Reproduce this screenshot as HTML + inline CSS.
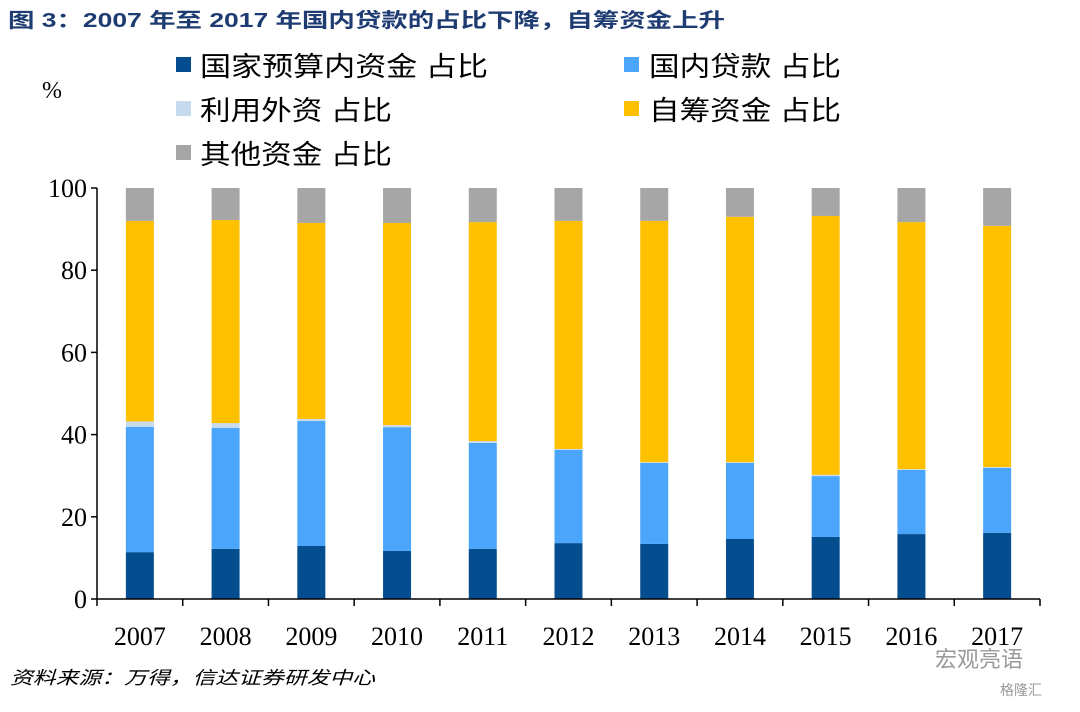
<!DOCTYPE html>
<html><head><meta charset="utf-8"><style>
body{margin:0;background:#fff;width:1080px;height:707px;overflow:hidden;font-family:"Liberation Sans","Noto Sans CJK SC",sans-serif}
</style></head><body>
<svg width="1080" height="707" xmlns="http://www.w3.org/2000/svg" id="chart">
<text x="8" y="27" font-size="20" font-weight="bold" fill="#1f3c72" textLength="717" lengthAdjust="spacingAndGlyphs" font-family="'Liberation Sans','Noto Sans CJK SC',sans-serif">图 3：2007 年至 2017 年国内贷款的占比下降，自筹资金上升</text>
<text x="42" y="98" font-size="24" fill="#000" font-family="'Liberation Serif',serif">%</text>
<g font-size="27" font-family="'Liberation Sans','Noto Sans CJK SC',sans-serif">
<g><rect x="176" y="57" width="15" height="15" fill="#044e90"/><text x="200" y="76" textLength="288" lengthAdjust="spacingAndGlyphs">国家预算内资金 占比</text></g>
<g><rect x="624" y="57" width="15" height="15" fill="#4aa5fb"/><text x="649" y="76" textLength="192" lengthAdjust="spacingAndGlyphs">国内贷款 占比</text></g>
<g><rect x="176" y="101" width="15" height="15" fill="#c7dbee"/><text x="200" y="120" textLength="192" lengthAdjust="spacingAndGlyphs">利用外资 占比</text></g>
<g><rect x="624" y="101" width="15" height="15" fill="#ffc000"/><text x="649" y="120" textLength="192" lengthAdjust="spacingAndGlyphs">自筹资金 占比</text></g>
<g><rect x="176" y="145" width="15" height="15" fill="#a6a6a6"/><text x="200" y="164" textLength="192" lengthAdjust="spacingAndGlyphs">其他资金 占比</text></g>
</g>
<g id="plot"></g>
<text x="10" y="684" font-size="18" font-style="italic" fill="#000" textLength="365" lengthAdjust="spacingAndGlyphs" font-family="'Liberation Sans','Noto Sans CJK SC',sans-serif">资料来源：万得，信达证券研发中心</text>
<text x="935" y="667" font-size="22" fill="#9a9a9a" font-family="'Liberation Sans','Noto Sans CJK SC',sans-serif">宏观亮语</text>
<text x="1000" y="695" font-size="14" fill="#9a9a9a" font-family="'Liberation Sans','Noto Sans CJK SC',sans-serif">格隆汇</text>
</svg>
<script>
const categories=["2007","2008","2009","2010","2011","2012","2013","2014","2015","2016","2017"];
const nationalBudget=[11.4,12.2,12.9,11.7,12.2,13.6,13.4,14.6,15.1,15.8,16.1];
const domesticLoans=[30.5,29.4,30.4,30.1,25.8,22.7,19.7,18.5,14.8,15.6,15.8];
const foreignCapital=[1.3,1.2,0.5,0.5,0.4,0.2,0.2,0.2,0.3,0.2,0.2];
const selfRaised=[48.8,49.4,47.7,49.2,53.3,55.5,58.7,59.7,63.0,60.1,58.7];
const otherFunds=[8.0,7.8,8.5,8.5,8.3,8.0,8.0,7.0,6.8,8.3,9.2];
const yTicks=[0,20,40,60,80,100];
const series=[nationalBudget,domesticLoans,foreignCapital,selfRaised,otherFunds];
const colors=["#044e90","#4aa5fb","#c7dbee","#ffc000","#a6a6a6"];
const names=["national-budget","domestic-loans","foreign-capital","self-raised","other"];
const X0=97,X1=1040,Y0=599,Y1=188;
const band=(X1-X0)/categories.length;
const y=v=>Y0-(v/100)*(Y0-Y1);
const xc=i=>X0+band*(i+0.5);
const ns="http://www.w3.org/2000/svg";
const plot=document.getElementById('plot');
function mk(t,a){const e=document.createElementNS(ns,t);for(const k in a)e.setAttribute(k,a[k]);plot.appendChild(e);return e;}
categories.forEach((c,i)=>{
 let acc=0;
 series.forEach((s,j)=>{
  const v=s[i];
  const r=mk('rect',{x:xc(i)-14,y:y(acc+v),width:28,height:y(acc)-y(acc+v),fill:colors[j]});
  
  
  acc+=v;
 });
 const t=mk('text',{x:xc(i),y:645,'font-size':26,'text-anchor':'middle','font-family':"'Liberation Serif',serif"});
 t.textContent=c;
 
 
});
yTicks.forEach(v=>{
 mk('line',{x1:X0-6,x2:X0,y1:y(v),y2:y(v),stroke:'#000','stroke-width':1.5});
 const t=mk('text',{x:X0-10,y:y(v)+9,'font-size':26,'text-anchor':'end','font-family':"'Liberation Serif',serif"});
 t.textContent=v;
 
 
});
for(let i=0;i<=categories.length;i++){mk('line',{x1:X0+band*i,x2:X0+band*i,y1:Y0,y2:Y0+7,stroke:'#000','stroke-width':1.5});}
const ya=mk('line',{x1:X0,x2:X0,y1:Y1,y2:Y0,stroke:'#000','stroke-width':1.5});


const xa=mk('line',{x1:X0,x2:X1,y1:Y0,y2:Y0,stroke:'#000','stroke-width':1.5});


</script>
</body></html>
